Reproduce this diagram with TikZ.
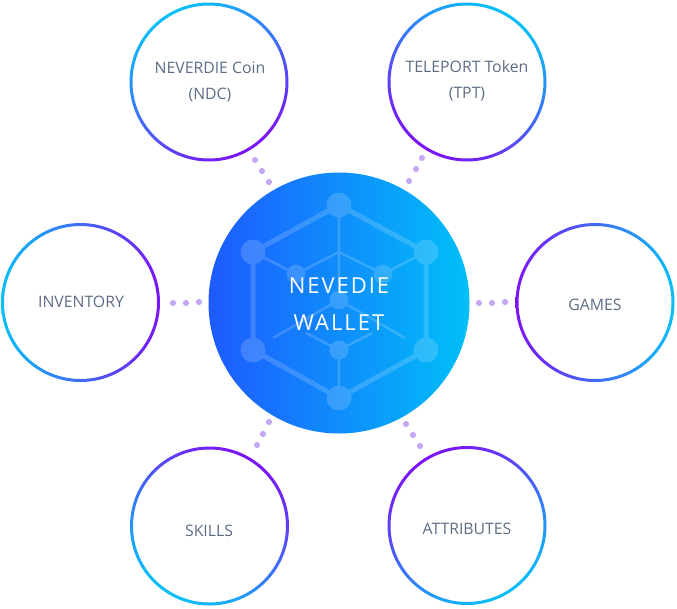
\documentclass[tikz,border=0pt]{standalone}
\usepackage{fontspec}
\setmainfont{Open Sans}
\begin{document}
\definecolor{vio}{RGB}{124,20,245}
\definecolor{cyn}{RGB}{8,192,248}
\definecolor{txtc}{RGB}{92,108,132}
\definecolor{dotc}{RGB}{196,168,246}
\definecolor{wl}{RGB}{30,90,255}
\definecolor{wr}{RGB}{0,192,248}
\begin{tikzpicture}[x=1pt,y=-1pt,
  hub/.style={circle,minimum size=156pt,inner sep=0pt},
  ring/.style={even odd rule,top color=vio,bottom color=cyn},
  lbl/.style={text=txtc,font=\fontsize{15.8}{26}\selectfont,align=center,inner sep=0pt},
  pdot/.style={fill=dotc},
  thick edge/.style={draw=white,line width=5pt},
  thin edge/.style={draw=white,line width=2.6pt},
  knot/.style={fill=white}]
\useasboundingbox (0,0) rectangle (677,608);
% main circle
\node[circle,minimum size=261pt,inner sep=0pt,left color=wl,right color=wr] (wallet) at (339,303) {};
% icon
\begin{scope}[transparency group,opacity=0.17]
  \coordinate (T) at (339,205);
  \coordinate (TR) at (426,252);
  \coordinate (BR) at (426,350);
  \coordinate (B) at (339,398);
  \coordinate (BL) at (253,350);
  \coordinate (TL) at (253,252);
  \coordinate (it) at (339,252);
  \coordinate (iul) at (296,274);
  \coordinate (iur) at (383,274);
  \coordinate (ic) at (339,300);
  \coordinate (ib) at (339,350);
  \coordinate (pL) at (273,338);
  \coordinate (pR) at (405,338);
  \coordinate (qL) at (306,333);
  \coordinate (qR) at (372,333);
  \draw[thick edge,line join=round] (T) -- (TR) -- (BR) -- (B) -- (BL) -- (TL) -- cycle;
  \draw[thin edge] (T) -- (ic) (it) -- (iul) (it) -- (iur) (TL) -- (iul) (TR) -- (iur)
     (ic) -- (pL) (ic) -- (pR) (ib) -- (B) (ib) -- (qL) (ib) -- (qR);
  \foreach \p in {T,TR,BR,B,BL,TL} \fill[knot] (\p) circle (12.5pt);
  \foreach \p in {iul,iur,ic,ib} \fill[knot] (\p) circle (9.5pt);
\end{scope}
\node[text=white,font=\fontsize{22}{37}\selectfont\addfontfeature{LetterSpace=9},align=center,inner sep=0pt] (wtext) at (339,304) {NEVEDIE\\WALLET};
% outer hubs
\node[hub] (coin) at (209,82) {};
\node[hub] (tele) at (467,82) {};
\node[hub] (inv) at (80.5,302.5) {};
\node[hub] (games) at (595,302.5) {};
\node[hub] (skills) at (209.5,526) {};
\node[hub] (attr) at (467,525.5) {};
\shade[ring,shading angle=-149.5] (coin.center) circle (79.5pt) (coin.center) circle (76.5pt);
\shade[ring,shading angle=149.9] (tele.center) circle (79.5pt) (tele.center) circle (76.5pt);
\shade[ring,shading angle=-90] (inv.center) circle (79.5pt) (inv.center) circle (76.5pt);
\shade[ring,shading angle=90] (games.center) circle (79.5pt) (games.center) circle (76.5pt);
\shade[ring,shading angle=-30.2] (skills.center) circle (79.5pt) (skills.center) circle (76.5pt);
\shade[ring,shading angle=29.9] (attr.center) circle (79.5pt) (attr.center) circle (76.5pt);
% labels
\node[lbl] (lcoin) at (210,82) {NEVERDIE Coin\\(NDC)};
\node[lbl] (ltele) at (467,81) {TELEPORT Token\\(TPT)};
\node[lbl] (linv) at (81,302) {INVENTORY};
\node[lbl] (lgames) at (595,305) {GAMES};
\node[lbl] (lskills) at (209,531) {SKILLS};
\node[lbl] (lattr) at (467,529) {ATTRIBUTES};
% dotted connectors
\foreach \a/\b in {255/160,262/171,269/182,
                   422/158,416/169,409/181,
                   173/303,186/303,199/302,
                   479/303,492/303,505/302,
                   269/422,263/434,257/445,
                   406/424,413/435,420/446}
  \fill[pdot] (\a,\b) circle (3.1pt);
\end{tikzpicture}
\end{document}
